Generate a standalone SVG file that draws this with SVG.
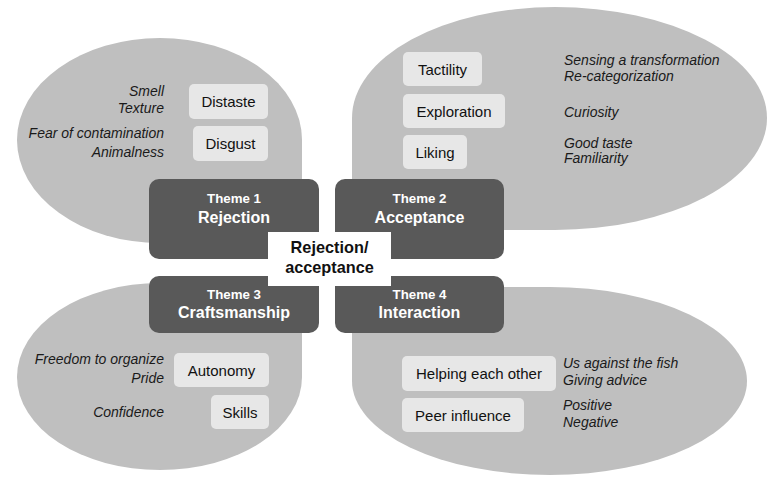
<svg xmlns="http://www.w3.org/2000/svg" width="775" height="484" viewBox="0 0 775 484">
<style>
.bubble{fill:#bfbfbf}
.theme{fill:#595959}
.item{fill:#e7e7e7}
.tt{font-family:"Liberation Sans",Arial,sans-serif;font-weight:bold;fill:#fff;text-anchor:middle}
.t1{font-size:13.3px}
.t2{font-size:16px}
.lbl{font-family:"Liberation Sans",Arial,sans-serif;font-size:15px;fill:#111;text-anchor:middle}
.it{font-family:"Liberation Sans",Arial,sans-serif;font-size:14px;font-style:italic;fill:#1a1a1a}
.r{text-anchor:end}
.ctr{font-family:"Liberation Sans",Arial,sans-serif;font-size:16.3px;font-weight:bold;fill:#111;text-anchor:middle}
</style>
<rect width="775" height="484" fill="#fff"/>
<g id="rejection-bubble">
<path class="bubble" d="M302 140 V243 H160 A143 103 0 0 1 17 140 A143 102 0 0 1 160 38 A142 102 0 0 1 302 140 Z"/>
<rect class="item" x="189" y="84" width="79" height="35" rx="5"/>
<text class="lbl" x="228.5" y="107">Distaste</text>
<rect class="item" x="193" y="126" width="75" height="35" rx="5"/>
<text class="lbl" x="230.5" y="149">Disgust</text>
<text class="it r" x="164" y="96">Smell</text>
<text class="it r" x="164" y="113">Texture</text>
<text class="it r" x="164" y="138">Fear of contamination</text>
<text class="it r" x="164" y="157">Animalness</text>
</g>
<g id="acceptance-bubble">
<path class="bubble" d="M352 118 A203 111 0 0 1 555 7 A212 111 0 0 1 767 118 A212 112 0 0 1 555 230 H352 Z"/>
<rect class="item" x="403" y="52" width="79" height="34" rx="5"/>
<text class="lbl" x="442.5" y="74.5">Tactility</text>
<rect class="item" x="403" y="94" width="102" height="34" rx="5"/>
<text class="lbl" x="454" y="116.5">Exploration</text>
<rect class="item" x="403" y="135" width="64" height="34" rx="5"/>
<text class="lbl" x="435" y="157.5">Liking</text>
<text class="it" x="564" y="65">Sensing a transformation</text>
<text class="it" x="564" y="81">Re-categorization</text>
<text class="it" x="564" y="117">Curiosity</text>
<text class="it" x="564" y="148">Good taste</text>
<text class="it" x="564" y="163">Familiarity</text>
</g>
<g id="craftsmanship-bubble">
<path class="bubble" d="M160 283 H302 V377 A142 93 0 0 1 160 470 A143 93 0 0 1 17 377 A143 94 0 0 1 160 283 Z"/>
<rect class="item" x="174" y="353" width="95" height="34" rx="5"/>
<text class="lbl" x="221.5" y="375.5">Autonomy</text>
<rect class="item" x="211" y="395" width="58" height="34" rx="5"/>
<text class="lbl" x="240" y="417.5">Skills</text>
<text class="it r" x="164" y="364">Freedom to organize</text>
<text class="it r" x="164" y="383">Pride</text>
<text class="it r" x="164" y="417">Confidence</text>
</g>
<g id="interaction-bubble">
<path class="bubble" d="M352 287 H550 A197 94 0 0 1 747 381 A197 94 0 0 1 550 475 A198 94 0 0 1 352 381 Z"/>
<rect class="item" x="402" y="356" width="154" height="35" rx="5"/>
<text class="lbl" x="479" y="379">Helping each other</text>
<rect class="item" x="402" y="398" width="122" height="34" rx="5"/>
<text class="lbl" x="463" y="420.5">Peer influence</text>
<text class="it" x="563" y="368">Us against the fish</text>
<text class="it" x="563" y="385">Giving advice</text>
<text class="it" x="563" y="410">Positive</text>
<text class="it" x="563" y="427">Negative</text>
</g>
<g id="theme1">
<rect class="theme" x="149" y="179" width="170" height="80" rx="10"/>
<text class="tt t1" x="234" y="203">Theme 1</text>
<text class="tt t2" x="234" y="223">Rejection</text>
</g>
<g id="theme2">
<rect class="theme" x="335" y="179" width="169" height="80" rx="10"/>
<text class="tt t1" x="419.5" y="203">Theme 2</text>
<text class="tt t2" x="419.5" y="223">Acceptance</text>
</g>
<g id="theme3">
<rect class="theme" x="149" y="276" width="170" height="57" rx="10"/>
<text class="tt t1" x="234" y="299">Theme 3</text>
<text class="tt t2" x="234" y="318">Craftsmanship</text>
</g>
<g id="theme4">
<rect class="theme" x="335" y="276" width="169" height="57" rx="10"/>
<text class="tt t1" x="419.5" y="299">Theme 4</text>
<text class="tt t2" x="419.5" y="318">Interaction</text>
</g>
<g id="center">
<rect x="268" y="232" width="123" height="54" fill="#fff"/>
<text class="ctr" x="329.5" y="253">Rejection/</text>
<text class="ctr" x="329.5" y="273">acceptance</text>
</g>
</svg>
